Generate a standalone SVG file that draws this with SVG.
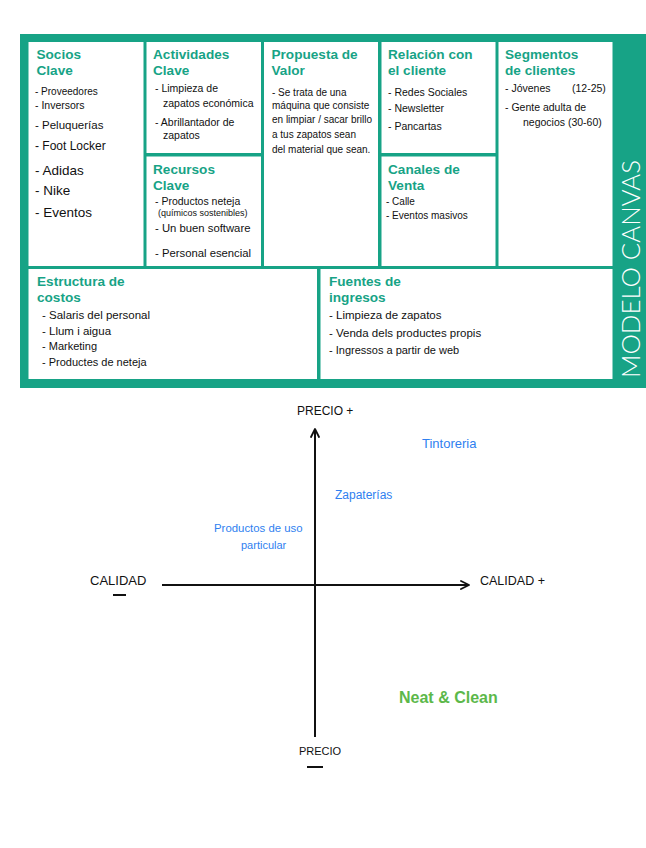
<svg xmlns="http://www.w3.org/2000/svg" width="646" height="848" viewBox="0 0 646 848">
<style>
.cell{fill:#ffffff}
.hd{font-family:"Liberation Sans",Arial,sans-serif;font-weight:700;font-size:13.6px;fill:#17a386}
.it{font-family:"Liberation Sans",Arial,sans-serif;fill:#111111}
.ax{font-family:"Liberation Sans",Arial,sans-serif;fill:#111111}
.bl{font-family:"Liberation Sans",Arial,sans-serif;fill:#2f7ff0}
.gr{font-family:"Liberation Sans",Arial,sans-serif;font-weight:700;fill:#5cb84a}
.axis{stroke:#111111;stroke-width:2;fill:none}
</style>
<defs>
<marker id="arr" markerUnits="userSpaceOnUse" markerWidth="12" markerHeight="12" refX="9" refY="5" orient="auto">
<path d="M1,1 L9,5 L1,9" fill="none" stroke="#111111" stroke-width="1.8" stroke-linecap="round" stroke-linejoin="round"/>
</marker>
</defs>
<rect width="646" height="848" fill="#ffffff"/>
<g id="canvas">
<rect x="20" y="34" width="626" height="354" fill="#17a386"/>
<text transform="translate(640,269) rotate(-90)" text-anchor="middle" font-family="Lato,'Open Sans',sans-serif" font-weight="300" font-size="25" fill="#ffffff" textLength="218" lengthAdjust="spacingAndGlyphs">MODELO CANVAS</text>
</g>
<g id="socios">
<rect class="cell" x="28.5" y="42" width="115" height="224"/>
<text class="hd" x="36.5" y="59">Socios</text>
<text class="hd" x="36.5" y="75">Clave</text>
<text class="it" font-size="10" x="35" y="95">- Proveedores</text>
<text class="it" font-size="10.5" x="35" y="108.5">- Inversors</text>
<text class="it" font-size="11.5" x="35" y="129">- Peluquerías</text>
<text class="it" font-size="12" x="35" y="149.5">- Foot Locker</text>
<text class="it" font-size="13.5" x="35" y="174.5">- Adidas</text>
<text class="it" font-size="13.5" x="35" y="194.5">- Nike</text>
<text class="it" font-size="13.5" x="35" y="216.5">- Eventos</text>
</g>
<g id="actividades">
<rect class="cell" x="146.5" y="42" width="114.5" height="111"/>
<text class="hd" x="153" y="59">Actividades</text>
<text class="hd" x="153" y="75">Clave</text>
<text class="it" font-size="10.5" x="155" y="91.5">- Limpieza de</text>
<text class="it" font-size="10.5" x="163" y="106.5">zapatos económica</text>
<text class="it" font-size="10.5" x="155" y="125.5">- Abrillantador de</text>
<text class="it" font-size="10.5" x="163" y="138.5">zapatos</text>
</g>
<g id="recursos">
<rect class="cell" x="146.5" y="156.5" width="114.5" height="109.5"/>
<text class="hd" x="153" y="174">Recursos</text>
<text class="hd" x="153" y="190">Clave</text>
<text class="it" font-size="10.5" x="155" y="204.5">- Productos neteja</text>
<text class="it" font-size="9" x="158" y="216">(químicos sostenibles)</text>
<text class="it" font-size="11.3" x="155" y="231.5">- Un buen software</text>
<text class="it" font-size="11.3" x="155" y="256.5">- Personal esencial</text>
</g>
<g id="propuesta">
<rect class="cell" x="264" y="42" width="114" height="224"/>
<text class="hd" x="271.5" y="59">Propuesta de</text>
<text class="hd" x="271.5" y="75">Valor</text>
<text class="it" font-size="10" x="272" y="95.5">- Se trata de una</text>
<text class="it" font-size="10" x="272" y="109">máquina que consiste</text>
<text class="it" font-size="10" x="272" y="123">en limpiar / sacar brillo</text>
<text class="it" font-size="10" x="272" y="137.5">a tus zapatos sean</text>
<text class="it" font-size="10" x="272" y="153">del material que sean.</text>
</g>
<g id="relacion">
<rect class="cell" x="381.5" y="42" width="114" height="111"/>
<text class="hd" x="388" y="59">Relación con</text>
<text class="hd" x="388" y="75">el cliente</text>
<text class="it" font-size="10.5" x="388" y="95.5">- Redes Sociales</text>
<text class="it" font-size="10.5" x="388" y="111.5">- Newsletter</text>
<text class="it" font-size="10.5" x="388" y="130">- Pancartas</text>
</g>
<g id="canales">
<rect class="cell" x="381.5" y="156.5" width="114" height="109.5"/>
<text class="hd" x="388" y="174">Canales de</text>
<text class="hd" x="388" y="190">Venta</text>
<text class="it" font-size="10" x="386" y="204.5">- Calle</text>
<text class="it" font-size="10" x="386" y="218.5">- Eventos masivos</text>
</g>
<g id="segmentos">
<rect class="cell" x="498.5" y="42" width="114" height="224"/>
<text class="hd" x="505" y="59">Segmentos</text>
<text class="hd" x="505" y="75">de clientes</text>
<text class="it" font-size="10.5" x="505" y="91.5">- Jóvenes</text>
<text class="it" font-size="10.5" x="572" y="91.5">(12-25)</text>
<text class="it" font-size="10.5" x="505" y="110.5">- Gente adulta de</text>
<text class="it" font-size="10.5" x="523" y="125.5">negocios (30-60)</text>
</g>
<g id="estructura">
<rect class="cell" x="28.5" y="269" width="288.5" height="110"/>
<text class="hd" x="37" y="286">Estructura de</text>
<text class="hd" x="37" y="302">costos</text>
<text class="it" font-size="11.5" x="42" y="318.5">- Salaris del personal</text>
<text class="it" font-size="11.5" x="42" y="334.5">- Llum i aigua</text>
<text class="it" font-size="11" x="42" y="350">- Marketing</text>
<text class="it" font-size="11" x="42" y="365.5">- Productes de neteja</text>
</g>
<g id="fuentes">
<rect class="cell" x="320.5" y="269" width="292" height="110"/>
<text class="hd" x="329" y="286">Fuentes de</text>
<text class="hd" x="329" y="302">ingresos</text>
<text class="it" font-size="11.5" x="329" y="318.5">- Limpieza de zapatos</text>
<text class="it" font-size="11.5" x="329" y="336.5">- Venda dels productes propis</text>
<text class="it" font-size="11" x="329" y="353.5">- Ingressos a partir de web</text>
</g>
<g id="connectors">
<line class="axis" x1="315" y1="737" x2="315" y2="429" marker-end="url(#arr)"/>
<line class="axis" x1="162" y1="585" x2="469" y2="585" marker-end="url(#arr)"/>
</g>
<g id="precio-mas">
<text class="ax" font-size="12" x="297" y="415">PRECIO +</text>
</g>
<g id="precio-menos">
<text class="ax" font-size="11" x="299" y="755">PRECIO</text>
<line x1="307" y1="767" x2="323" y2="767" stroke="#111111" stroke-width="2"/>
</g>
<g id="calidad-menos">
<text class="ax" font-size="13" x="90" y="585">CALIDAD</text>
<line x1="113" y1="595" x2="126" y2="595" stroke="#111111" stroke-width="2"/>
</g>
<g id="calidad-mas">
<text class="ax" font-size="12.5" x="480" y="585">CALIDAD +</text>
</g>
<g id="tintoreria">
<text class="bl" font-size="13" x="422" y="448">Tintoreria</text>
</g>
<g id="zapaterias">
<text class="bl" font-size="12" x="335" y="499">Zapaterías</text>
</g>
<g id="productos-uso">
<text class="bl" font-size="11.4" x="214" y="532">Productos de uso</text>
<text class="bl" font-size="11" x="241" y="549">particular</text>
</g>
<g id="neat-clean">
<text class="gr" font-size="16" x="399" y="703">Neat &amp; Clean</text>
</g>
</svg>
